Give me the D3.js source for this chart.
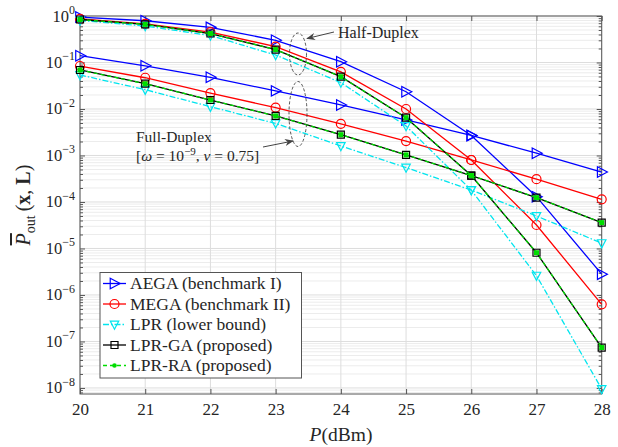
<!DOCTYPE html>
<html>
<head>
<meta charset="utf-8">
<script src="https://cdn.jsdelivr.net/npm/d3@7/dist/d3.min.js"></script>
<style>
  html, body { margin: 0; padding: 0; background: #fff; }
  svg text { font-family: "Liberation Serif", "DejaVu Serif", serif; fill: #262626; }
</style>
</head>
<body>
<svg id="chart" width="618" height="447"></svg>
<script>
// Transmit power (dBm)
const power = [20, 21, 22, 23, 24, 25, 26, 27, 28];

// Half-duplex outage probability
const aegaHD   = [0.95, 0.79, 0.57, 0.30, 0.104, 0.0235, 0.0027, 1.3e-4, 2.8e-6];
const megaHD   = [0.87, 0.68, 0.45, 0.22, 0.063, 0.010, 8.0e-4, 3.2e-5, 6.3e-7];
const lprHD    = [0.80, 0.61, 0.38, 0.145, 0.037, 0.0043, 1.8e-4, 2.6e-6, 9.5e-9];
const lprGaHD  = [0.84, 0.66, 0.42, 0.19, 0.0495, 0.0065, 3.7e-4, 8.1e-6, 7.4e-8];
const lprRaHD  = [0.84, 0.66, 0.42, 0.19, 0.0495, 0.0065, 3.7e-4, 8.1e-6, 7.4e-8];

// Full-duplex outage probability (omega = 1e-9, nu = 0.75)
const aegaFD   = [0.14, 0.085, 0.048, 0.0245, 0.0122, 0.0058, 0.0027, 1.12e-3, 4.4e-4];
const megaFD   = [0.084, 0.047, 0.022, 0.0107, 0.0048, 0.00204, 8.0e-4, 3.1e-4, 1.14e-4];
const lprFD    = [0.054, 0.026, 0.0112, 0.0049, 0.0016, 5.5e-4, 1.8e-4, 5.0e-5, 1.3e-5];
const lprGaFD  = [0.069, 0.035, 0.0156, 0.0071, 0.0028, 1.03e-3, 3.7e-4, 1.24e-4, 3.6e-5];
const lprRaFD  = [0.069, 0.035, 0.0156, 0.0071, 0.0028, 1.03e-3, 3.7e-4, 1.24e-4, 3.6e-5];

const xTicks = [20, 21, 22, 23, 24, 25, 26, 27, 28];
const yTickExps = [0, -1, -2, -3, -4, -5, -6, -7, -8];

const legendNames = [
  "AEGA (benchmark I)",
  "MEGA (benchmark II)",
  "LPR (lower bound)",
  "LPR-GA (proposed)",
  "LPR-RA (proposed)"
];

const svg = d3.select("#chart");
const L = 80, R = 601.7, T = 16, B = 394;

const x = d3.scaleLinear().domain([20, 28]).range([L, R]);
const y = d3.scaleLog().domain([Math.pow(10, -8.13), 1]).range([B, T]);

// grid
const grid = svg.append("g");
const minorVals = [];
for (let e = -9; e < 0; e++) {
  for (let m = 2; m <= 9; m++) {
    const v = m * Math.pow(10, e);
    if (v >= y.domain()[0] && v <= 1) minorVals.push(v);
  }
}
grid.selectAll("line.minor").data(minorVals).join("line")
  .attr("x1", L).attr("x2", R)
  .attr("y1", d => y(d)).attr("y2", d => y(d))
  .attr("stroke", "#ececec").attr("stroke-width", 1);
grid.selectAll("line.hmaj").data(yTickExps).join("line")
  .attr("x1", L).attr("x2", R)
  .attr("y1", d => y(Math.pow(10, d))).attr("y2", d => y(Math.pow(10, d)))
  .attr("stroke", "#dddddd").attr("stroke-width", 1);
grid.selectAll("line.vmaj").data(xTicks).join("line")
  .attr("x1", d => x(d)).attr("x2", d => x(d))
  .attr("y1", T).attr("y2", B)
  .attr("stroke", "#dddddd").attr("stroke-width", 1);

// axes with inward ticks
const axCol = "#555";
const xAxis = svg.append("g").attr("transform", `translate(0,${B})`)
  .call(d3.axisBottom(x).tickValues(xTicks).tickSizeInner(-5).tickSizeOuter(0).tickPadding(9).tickFormat(d3.format("d")));
const xTop = svg.append("g").attr("transform", `translate(0,${T})`)
  .call(d3.axisTop(x).tickValues(xTicks).tickSizeInner(-5).tickSizeOuter(0).tickFormat(""));
const yAxis = svg.append("g").attr("transform", `translate(${L},0)`)
  .call(d3.axisLeft(y).tickValues(yTickExps.map(e => Math.pow(10, e))).tickSizeInner(-5).tickSizeOuter(0).tickFormat(""));
const yRight = svg.append("g").attr("transform", `translate(${R},0)`)
  .call(d3.axisRight(y).tickValues(yTickExps.map(e => Math.pow(10, e))).tickSizeInner(-5).tickSizeOuter(0).tickFormat(""));
const yMinL = svg.append("g").attr("transform", `translate(${L},0)`)
  .call(d3.axisLeft(y).tickValues(minorVals).tickSizeInner(-3).tickSizeOuter(0).tickFormat(""));
const yMinR = svg.append("g").attr("transform", `translate(${R},0)`)
  .call(d3.axisRight(y).tickValues(minorVals).tickSizeInner(-3).tickSizeOuter(0).tickFormat(""));
[xAxis, xTop, yAxis, yRight, yMinL, yMinR].forEach(g => {
  g.select(".domain").remove();
  g.selectAll("line").attr("stroke", axCol);
  g.attr("font-family", null);
});
xAxis.selectAll("text").attr("font-size", 17).attr("fill", "#262626");

// y tick labels as 10^e
yTickExps.forEach(e => {
  const t = svg.append("text")
    .attr("x", 75).attr("y", y(Math.pow(10, e)) + 5.5)
    .attr("text-anchor", "end").attr("font-size", 16.5);
  t.append("tspan").text("10");
  t.append("tspan").attr("dy", -7.5).attr("font-size", 12)
    .text(e === 0 ? "0" : "\u2212" + Math.abs(e));
});

// frame
svg.append("rect").attr("x", L).attr("y", T).attr("width", R - L).attr("height", B - T)
  .attr("fill", "none").attr("stroke", axCol).attr("stroke-width", 1);

// markers
const sym = {
  right: s => `M${-0.45*s},${-0.55*s}L${0.6*s},0L${-0.45*s},${0.55*s}Z`,
  down: s => `M${-0.5*s},${-0.4*s}L${0.5*s},${-0.4*s}L0,${0.55*s}Z`,
  square: s => `M${-s/2},${-s/2}h${s}v${s}h${-s}Z`
};

const styles = [
  { color: "#0000ff", dash: null, marker: "right", size: 9.5 },
  { color: "#ff0000", dash: null, marker: "circle", size: 4.5 },
  { color: "#00e5ee", dash: "6,2,1.5,2", marker: "down", size: 8.5 },
  { color: "#000000", dash: null, marker: "square", size: 7 },
  { color: "#00dd00", dash: "4,3", marker: "dot", size: 5 }
];

const seriesSets = [
  [aegaHD, megaHD, lprHD, lprGaHD, lprRaHD],
  [aegaFD, megaFD, lprFD, lprGaFD, lprRaFD]
];

const line = d3.line().x((d, i) => x(power[i])).y(d => y(d));
const plot = svg.append("g");

function drawMarker(g, st, cx, cy, legend) {
  if (st.marker === "circle") {
    g.append("circle").attr("cx", cx).attr("cy", cy).attr("r", st.size)
      .attr("fill", "none").attr("stroke", st.color).attr("stroke-width", 1.2);
  } else if (st.marker === "dot") {
    if (legend) {
      g.append("circle").attr("cx", cx).attr("cy", cy).attr("r", 2.3).attr("fill", st.color);
    } else {
      g.append("path").attr("transform", `translate(${cx},${cy})`).attr("d", sym.square(st.size))
        .attr("fill", st.color);
    }
  } else {
    g.append("path").attr("transform", `translate(${cx},${cy})`).attr("d", sym[st.marker](st.size))
      .attr("fill", "none").attr("stroke", st.color).attr("stroke-width", 1.2);
  }
}

styles.forEach((st, k) => {
  seriesSets.forEach(set => {
    const data = set[k];
    plot.append("path").datum(data).attr("d", line)
      .attr("fill", "none").attr("stroke", st.color).attr("stroke-width", 1.3)
      .attr("stroke-dasharray", st.dash);
    data.forEach((v, i) => drawMarker(plot, st, x(power[i]), y(v), false));
  });
});

// annotations
const ann = svg.append("g");
ann.append("ellipse").attr("cx", 298).attr("cy", 54).attr("rx", 8.5).attr("ry", 21)
  .attr("fill", "none").attr("stroke", "#444").attr("stroke-width", 0.9).attr("stroke-dasharray", "3,2");
ann.append("ellipse").attr("cx", 298).attr("cy", 114).attr("rx", 9).attr("ry", 32.5)
  .attr("fill", "none").attr("stroke", "#444").attr("stroke-width", 0.9).attr("stroke-dasharray", "3,2");

const defs = svg.append("defs");
defs.append("marker").attr("id", "arr").attr("viewBox", "0 0 10 10").attr("refX", 9).attr("refY", 5)
  .attr("markerWidth", 9).attr("markerHeight", 9).attr("orient", "auto-start-reverse")
  .attr("markerUnits", "userSpaceOnUse")
  .append("path").attr("d", "M0,1L10,5L0,9L3,5Z").attr("fill", "#444");

ann.append("line").attr("x1", 334).attr("y1", 32).attr("x2", 307).attr("y2", 38.5)
  .attr("stroke", "#444").attr("stroke-width", 1).attr("marker-end", "url(#arr)");
ann.append("text").attr("x", 338).attr("y", 37.5).attr("font-size", 16).text("Half-Duplex");

ann.append("line").attr("x1", 263).attr("y1", 147).attr("x2", 293).attr("y2", 141)
  .attr("stroke", "#444").attr("stroke-width", 1).attr("marker-end", "url(#arr)");
ann.append("text").attr("x", 136).attr("y", 141.5).attr("font-size", 15.5).text("Full-Duplex");
const fd = ann.append("text").attr("x", 136).attr("y", 161).attr("font-size", 15.5);
fd.append("tspan").text("[");
fd.append("tspan").attr("font-style", "italic").text("\u03c9");
fd.append("tspan").text(" = 10");
fd.append("tspan").attr("dy", -6.5).attr("font-size", 11).text("\u22129");
fd.append("tspan").attr("dy", 6.5).text(", ");
fd.append("tspan").attr("font-style", "italic").text("\u03bd");
fd.append("tspan").text(" = 0.75]");

// legend
const lg = svg.append("g");
lg.append("rect").attr("x", 100).attr("y", 272.5).attr("width", 201.5).attr("height", 105.5)
  .attr("fill", "#fff").attr("stroke", axCol).attr("stroke-width", 1);
styles.forEach((st, k) => {
  const cy = 283.5 + k * 20.5;
  lg.append("line").attr("x1", 103).attr("x2", 126).attr("y1", cy).attr("y2", cy)
    .attr("stroke", st.color).attr("stroke-width", 1.3).attr("stroke-dasharray", st.dash);
  drawMarker(lg, st, 114.5, cy, true);
  lg.append("text").attr("x", 130).attr("y", cy + 5.5).attr("font-size", 17.5).text(legendNames[k]);
});

// axis titles
const xl = svg.append("text").attr("x", 341).attr("y", 441).attr("text-anchor", "middle").attr("font-size", 19.5);
xl.append("tspan").attr("font-style", "italic").text("P");
xl.append("tspan").text("(dBm)");

const yl = svg.append("text").attr("transform", "translate(30,205) rotate(-90)")
  .attr("text-anchor", "middle").attr("font-size", 20);
yl.append("tspan").attr("font-style", "italic").attr("text-decoration", "overline").text("P");
yl.append("tspan").attr("dy", 4.5).attr("font-size", 14).text("out");
yl.append("tspan").attr("dy", -4.5).text("\u2009(");
yl.append("tspan").attr("font-weight", "bold").text("x");
yl.append("tspan").text(", ");
yl.append("tspan").attr("font-weight", "bold").text("L");
yl.append("tspan").text(")");
</script>
</body>
</html>
